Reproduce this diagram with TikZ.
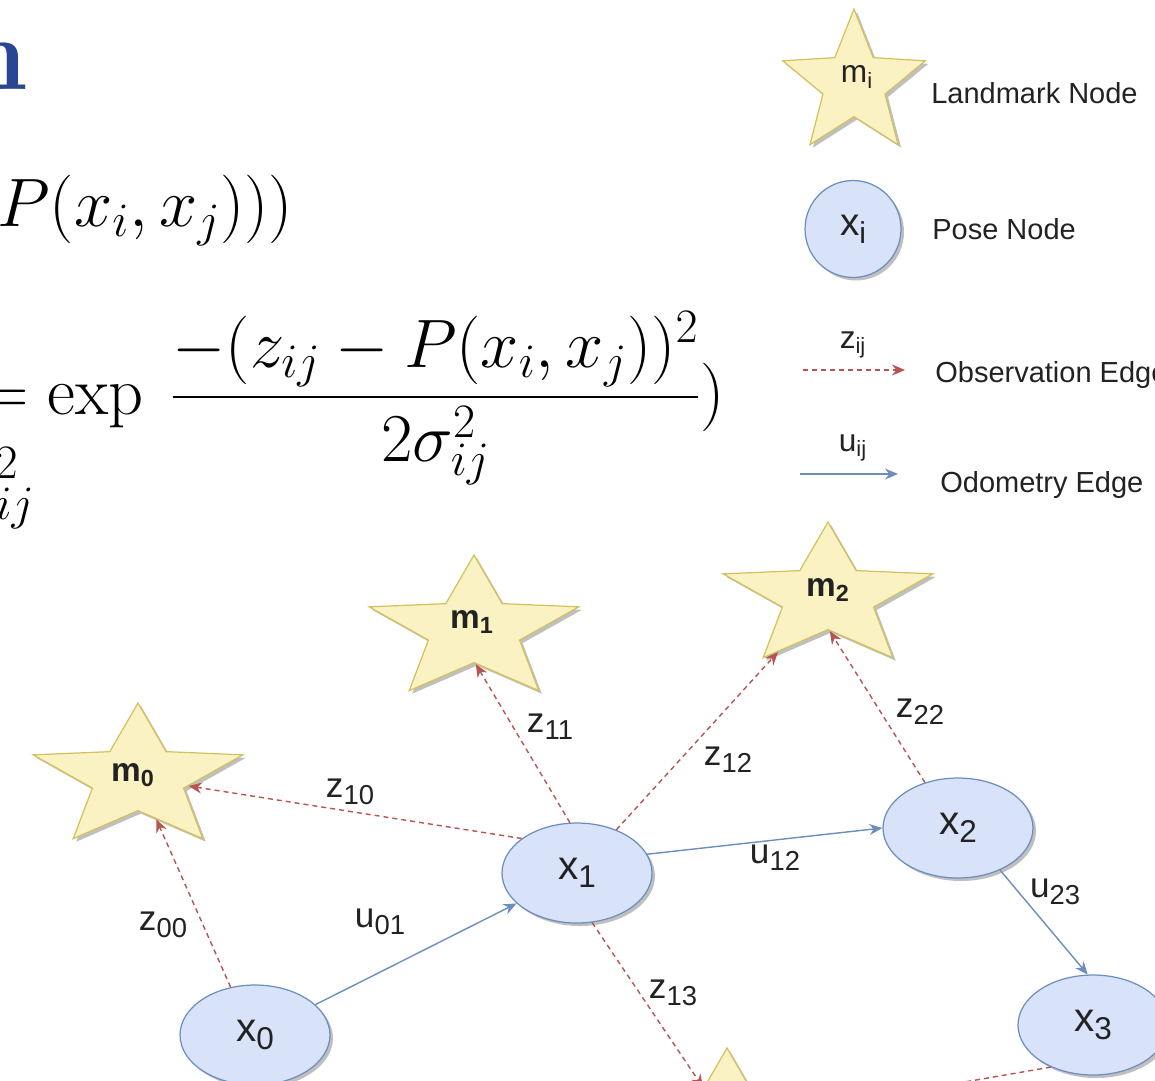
\RequirePackage{fix-cm}
\documentclass[tikz,border=0pt]{standalone}
\usepackage[no-math]{fontspec}
\usepackage{amsmath}
\newfontfamily\drawfont{Liberation Sans}
\usepackage{tikz}
\usetikzlibrary{positioning,arrows.meta,calc,shapes.geometric,shadows}
\definecolor{titleblue}{HTML}{2A4592}
\definecolor{obsred}{HTML}{B85450}
\definecolor{odoblue}{HTML}{6C8EBF}
\definecolor{posefill}{HTML}{D8E2F8}
\definecolor{poseline}{HTML}{6C8EBF}
\definecolor{starfill}{HTML}{FAF2C2}
\definecolor{starline}{HTML}{D2C25F}
\definecolor{inkgrey}{HTML}{222222}
\newcommand{\subidx}[1]{\raisebox{-0.2em}{\scalebox{0.78}{#1}}}
\tikzset{
  posenode/.style={ellipse, draw=poseline, fill=posefill, line width=0.7pt, minimum width=3cm, minimum height=2cm, inner sep=0pt, text=inkgrey, font=\drawfont\fontsize{23}{26}\selectfont, drop shadow={shadow xshift=0.06cm, shadow yshift=-0.06cm, fill=black, opacity=0.25}},
  marknode/.style={star, star points=5, star point ratio=2.3, draw=starline, fill=starfill, line width=0.7pt, minimum size=3cm, inner sep=0pt, drop shadow={shadow xshift=0.06cm, shadow yshift=-0.06cm, fill=black, opacity=0.25}},
  marktext/.style={inner sep=0pt, text=inkgrey, font=\drawfont\bfseries\fontsize{19}{22}\selectfont},
  edgetext/.style={inner sep=0pt, text=inkgrey, font=\drawfont\fontsize{20}{24}\selectfont},
  legendtext/.style={anchor=base west, inner sep=0pt, text=inkgrey, font=\drawfont\fontsize{16.5}{20}\selectfont},
  mathtext/.style={inner sep=0pt, font=\fontsize{39}{47}\selectfont},
  titletext/.style={anchor=base east, inner sep=0pt, text=titleblue, font=\fontsize{59}{60}\selectfont\bfseries},
  obsarrow/.style={-{Stealth[length=0.26cm,width=0.22cm]}, draw=obsred, line width=0.8pt, dash pattern=on 0.1cm off 0.08cm},
  odoarrow/.style={-{Stealth[length=0.26cm,width=0.22cm]}, draw=odoblue, line width=0.8pt}
}
\begin{document}
\begin{tikzpicture}[x=0.02cm, y=-0.02cm]
  \useasboundingbox (0,0) rectangle (1155,1080);
  \clip (0,0) rectangle (1155,1080);
  \node[titletext] (title) at (29,89) {n};
  \node[mathtext, anchor=base west] (prob) at (-3,226) {$P(x_i,x_j)))$};
  \node[mathtext, anchor=base east] (sigma) at (35,503) {$\vphantom{\sigma}^{2}_{ij}$};
  \node[mathtext, anchor=base west] (gauss) at (-21,414) {$\displaystyle =\exp\:\frac{-(z_{ij}-P(x_i,x_j))^2}{2\sigma_{ij}^2})$};
  \node[marknode] (mleg) at (854,84) {};
  \node[marktext, font=\drawfont\fontsize{18}{20}\selectfont] (mlegtxt) at (857,77) {m\textsubscript{i}};
  \node[legendtext] (mlegname) at (931,103) {Landmark Node};
  \node[posenode, minimum width=1.92cm, minimum height=1.94cm, font=\drawfont\fontsize{22}{24}\selectfont] (xleg) at (853,229) {x\subidx{i}};
  \node[legendtext] (xlegname) at (932,239) {Pose Node};
  \coordinate (zlegA) at (803,370);
  \coordinate (zlegB) at (905,370);
  \draw[obsarrow] (zlegA) -- (zlegB);
  \node[edgetext, font=\drawfont\fontsize{18}{20}\selectfont] (zleg) at (853,345) {z\textsubscript{ij}};
  \node[legendtext] (zlegname) at (935,382) {Observation Edge};
  \coordinate (ulegA) at (800,474);
  \coordinate (ulegB) at (898,474);
  \draw[odoarrow] (ulegA) -- (ulegB);
  \node[edgetext, font=\drawfont\fontsize{18}{20}\selectfont] (uleg) at (853,448) {u\textsubscript{ij}};
  \node[legendtext] (ulegname) at (940,492) {Odometry Edge};
  \node[marknode, xscale=1.47] (m0) at (138,778) {};
  \node[marknode, xscale=1.47] (m1) at (474,630) {};
  \node[marknode, xscale=1.47] (m2) at (828,597) {};
  \node[marknode, xscale=1.47] (m3) at (727,1123) {};
  \node[marktext] (m0txt) at (133,775) {m\textsubscript{0}};
  \node[marktext] (m1txt) at (472,622) {m\textsubscript{1}};
  \node[marktext] (m2txt) at (828,590) {m\textsubscript{2}};
  \node[posenode] (x0) at (255,1035) {x\subidx{0}};
  \node[posenode] (x1) at (577,873) {x\subidx{1}};
  \node[posenode] (x2) at (958,828) {x\subidx{2}};
  \node[posenode] (x3) at (1093,1025) {x\subidx{3}};
  \draw[obsarrow] (x0.117) -- (m0);
  \draw[odoarrow] (x0) -- (x1);
  \draw[obsarrow] (x1.148) -- (m0);
  \draw[obsarrow] (x1.98) -- (m1.-88);
  \draw[obsarrow] (x1) -- (m2);
  \draw[obsarrow] (x1.-73) -- (m3);
  \draw[obsarrow] (x2.126) -- (m2.-88);
  \draw[odoarrow] (x1.15) -- (x2.west);
  \draw[odoarrow] (x2.-45) -- (x3.96);
  \draw[obsarrow] (x3.225) -- (m3);
  \node[edgetext] (lz00) at (163,925) {z\subidx{00}};
  \node[edgetext] (lu01) at (380,922) {u\subidx{01}};
  \node[edgetext] (lz10) at (350,792) {z\subidx{10}};
  \node[edgetext] (lz11) at (550,727) {z\subidx{11}};
  \node[edgetext] (lz12) at (728,760) {z\subidx{12}};
  \node[edgetext] (lz22) at (920,712) {z\subidx{22}};
  \node[edgetext] (lu12) at (775,858) {u\subidx{12}};
  \node[edgetext] (lu23) at (1055,892) {u\subidx{23}};
  \node[edgetext] (lz13) at (673,993) {z\subidx{13}};
\end{tikzpicture}
\end{document}
